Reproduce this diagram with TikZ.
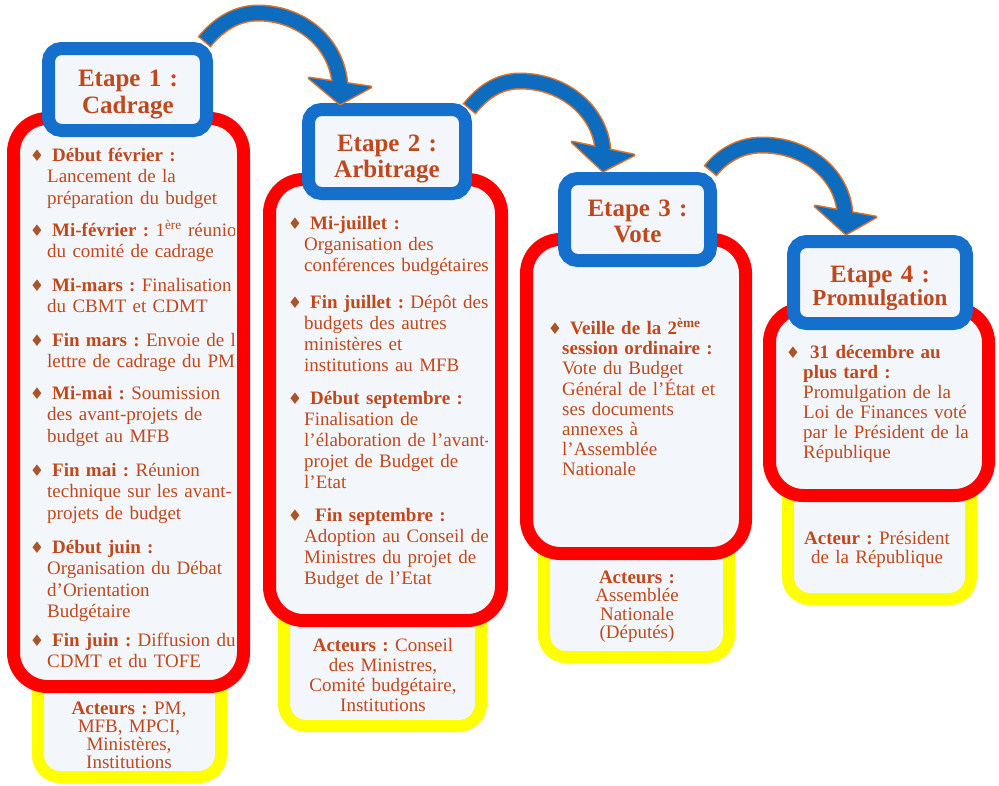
\documentclass[tikz,border=0pt]{standalone}
\usepackage{fontspec}
\setmainfont{Liberation Serif}
\newfontfamily\symfont{DejaVu Sans}
\definecolor{cBlue}{RGB}{20,112,204}
\definecolor{cRed}{RGB}{255,0,0}
\definecolor{cYel}{RGB}{255,255,0}
\definecolor{cFill}{RGB}{243,247,252}
\definecolor{cTxt}{RGB}{192,72,28}
\definecolor{cBul}{RGB}{170,85,40}
\definecolor{cArrB}{RGB}{14,108,190}
\definecolor{cArrO}{RGB}{220,115,40}
\newcommand\bul{{\symfont\fontsize{16}{16}\selectfont\color{cBul}\char"2666}}
\frenchspacing
\begin{document}
\begin{tikzpicture}[x=1pt,y=-1pt,
  titlebox/.style={rectangle, draw=cBlue, line width=13pt, rounded corners=13pt, fill=cFill, inner sep=0},
  stepbox/.style={rectangle, draw=cRed, line width=13pt, rounded corners=34pt, fill=cFill, inner sep=0},
  actbox/.style={rectangle, draw=cYel, line width=12pt, rounded corners=22pt, fill=cFill, inner sep=0},
  body/.style={anchor=base west, inner sep=0, text width=260pt, align=left, text=cTxt, font=\frenchspacing\fontsize{19}{#1}\selectfont},
  ttl/.style={anchor=base, inner sep=0, text width=200pt, align=center, text=cTxt, font=\bfseries\fontsize{25}{#1}\selectfont},
  act/.style={anchor=base, inner sep=0, text width=220pt, align=center, text=cTxt, font=\frenchspacing\fontsize{19}{#1}\selectfont},
  arrout/.style={draw=cArrO, line width=17pt},
  arrin/.style={draw=cArrB, line width=14pt},
  headout/.style={draw=cArrO, fill=cArrO, line width=3pt, line join=round},
  headin/.style={fill=cArrB}]
\useasboundingbox (0,0) rectangle (999,785);

% ---------- Step 1 ----------
\node[actbox, minimum width=183, minimum height=117] (y1) at (129.5,718.5) {};
\node[stepbox, minimum width=230, minimum height=568] (r1) at (128.5,402.5) {};
\node[titlebox, minimum width=158, minimum height=82] (b1) at (127.5,89.5) {};
\node[ttl=26.5] (t1) at (128,86.5) {Etape 1 :\\Cadrage};
\begin{scope}
\clip[rounded corners=26pt] (20,125) rectangle (234,680);
\node[body=21.5] (n11) at (47,161) {\hspace*{5pt}\llap{\bul\hspace{8pt}}\textbf{Début février :}\\Lancement de la\\préparation du budget};
\node[body=21.5] (n12) at (47,236) {\hspace*{5pt}\llap{\bul\hspace{8pt}}\textbf{Mi-février :} 1\textsuperscript{ère} réunion\\du comité de cadrage};
\node[body=21.5] (n13) at (47,291) {\hspace*{5pt}\llap{\bul\hspace{8pt}}\textbf{Mi-mars :} Finalisation\\du CBMT et CDMT};
\node[body=21.5] (n14) at (47,346) {\hspace*{5pt}\llap{\bul\hspace{8pt}}\textbf{Fin mars :} Envoie de la\\lettre de cadrage du PM};
\node[body=21.5] (n15) at (47,399) {\hspace*{5pt}\llap{\bul\hspace{8pt}}\textbf{Mi-mai :} Soumission\\des avant-projets de\\budget au MFB};
\node[body=21.5] (n16) at (47,476) {\hspace*{5pt}\llap{\bul\hspace{8pt}}\textbf{Fin mai :} Réunion\\technique sur les avant-\\projets de budget};
\node[body=21.5] (n17) at (47,553) {\hspace*{5pt}\llap{\bul\hspace{8pt}}\textbf{Début juin :}\\Organisation du Débat\\d'Orientation\\Budgétaire};
\node[body=21.5] (n18) at (47,646) {\hspace*{5pt}\llap{\bul\hspace{8pt}}\textbf{Fin juin :} Diffusion du\\CDMT et du TOFE};
\end{scope}
\node[act=18] (a1) at (129,714) {\textbf{Acteurs :} PM,\\MFB, MPCI,\\Ministères,\\Institutions};

% ---------- Step 2 ----------
\node[actbox, minimum width=197, minimum height=126] (y2) at (382.5,663) {};
\node[stepbox, minimum width=232, minimum height=441] (r2) at (385.5,400) {};
\node[titlebox, minimum width=157, minimum height=84] (b2) at (387,151.5) {};
\node[ttl=26.5] (t2) at (387,151) {Etape 2 :\\Arbitrage};
\begin{scope}
\clip[rounded corners=26pt] (276,186) rectangle (487,614);
\node[body=21] (n21) at (304,229) {\hspace*{6pt}\llap{\bul\hspace{8pt}}\textbf{Mi-juillet :}\\Organisation des\\conférences budgétaires};
\node[body=21] (n22) at (304,308) {\hspace*{6pt}\llap{\bul\hspace{8pt}}\textbf{Fin juillet :} Dépôt des\\budgets des autres\\ministères et\\institutions au MFB};
\node[body=21] (n23) at (304,404) {\hspace*{6pt}\llap{\bul\hspace{8pt}}\textbf{Début septembre :}\\Finalisation de\\l'élaboration de l'avant-\\projet de Budget de\\l'Etat};
\node[body=21] (n24) at (304,521) {\hspace*{11pt}\llap{\bul\hspace{13pt}}\textbf{Fin septembre :}\\Adoption au Conseil des\\Ministres du projet de\\Budget de l'Etat};
\end{scope}
\node[act=20] (a2) at (383,651) {\textbf{Acteurs :} Conseil\\des Ministres,\\Comité budgétaire,\\Institutions};

% ---------- Step 3 ----------
\node[actbox, minimum width=185, minimum height=127] (y3) at (636.5,593.5) {};
\node[stepbox, minimum width=219, minimum height=314] (r3) at (636,396.5) {};
\node[titlebox, minimum width=146, minimum height=82] (b3) at (637.5,219.5) {};
\node[ttl=25.5] (t3) at (637.5,216.5) {Etape 3 :\\Vote};
\begin{scope}
\clip[rounded corners=26pt] (533,246) rectangle (731,547);
\node[body=20] (n31) at (562,334) {\hspace*{8pt}\llap{\bul\hspace{8pt}}\textbf{Veille de la 2\textsuperscript{ème}}\\\textbf{session ordinaire :}\\Vote du Budget\\Général de l’État et\\ses documents\\annexes à\\l’Assemblée\\Nationale};
\end{scope}
\node[act=18.5] (a3) at (637,583) {\textbf{Acteurs :}\\Assemblée\\Nationale\\(Députés)};

% ---------- Step 4 ----------
\node[actbox, minimum width=183, minimum height=129] (y4) at (879.5,534.5) {};
\node[stepbox, minimum width=219, minimum height=187] (r4) at (879,402) {};
\node[titlebox, minimum width=173, minimum height=82] (b4) at (880,282.5) {};
\node[ttl=23.5] (t4) at (880,282) {Etape 4 :\\{\fontsize{23}{23}\selectfont Promulgation}};
\begin{scope}
\clip[rounded corners=26pt] (776,315) rectangle (974,489);
\node[body=20] (n41) at (803,358) {\hspace*{7pt}\llap{\bul\hspace{10pt}}\textbf{31 décembre au}\\\textbf{plus tard :}\\Promulgation de la\\Loi de Finances voté\\par le Président de la\\République};
\end{scope}
\node[act=19] (a4) at (877,544) {\textbf{Acteur :} Président\\de la République};

% ---------- Arrows ----------
\coordinate (a1s) at (205,41);  \coordinate (a1e) at (340,85);
\coordinate (a1l) at (309,78);  \coordinate (a1t) at (340,104); \coordinate (a1r) at (371,87);
\coordinate (a2s) at (470,108); \coordinate (a2e) at (603,150);
\coordinate (a2l) at (572,142); \coordinate (a2t) at (603,171); \coordinate (a2r) at (634,155);
\coordinate (a3s) at (711,170); \coordinate (a3e) at (845,214);
\coordinate (a3l) at (815,206); \coordinate (a3t) at (846,234); \coordinate (a3r) at (876,217);

\draw[arrout, shorten <=-1.5pt] (a1s) .. controls (218,25) and (236,13) .. (258,13) .. controls (300,13) and (337,42) .. (a1e);
\draw[headout] (a1l) -- (a1t) -- (a1r) -- cycle;
\draw[arrin] (a1s) .. controls (218,25) and (236,13) .. (258,13) .. controls (300,13) and (337,42) .. (a1e);
\fill[headin] (a1l) -- (a1t) -- (a1r) -- cycle;

\draw[arrout, shorten <=-1.5pt] (a2s) .. controls (482,93) and (498,81) .. (520,81) .. controls (565,81) and (600,112) .. (a2e);
\draw[headout] (a2l) -- (a2t) -- (a2r) -- cycle;
\draw[arrin] (a2s) .. controls (482,93) and (498,81) .. (520,81) .. controls (565,81) and (600,112) .. (a2e);
\fill[headin] (a2l) -- (a2t) -- (a2r) -- cycle;

\draw[arrout, shorten <=-1.5pt] (a3s) .. controls (722,156) and (740,145) .. (762,145) .. controls (808,145) and (843,176) .. (a3e);
\draw[headout] (a3l) -- (a3t) -- (a3r) -- cycle;
\draw[arrin] (a3s) .. controls (722,156) and (740,145) .. (762,145) .. controls (808,145) and (843,176) .. (a3e);
\fill[headin] (a3l) -- (a3t) -- (a3r) -- cycle;
\end{tikzpicture}
\end{document}
